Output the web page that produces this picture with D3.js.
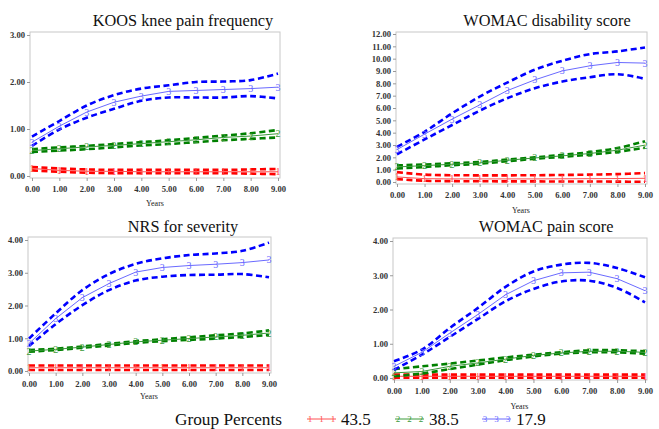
<!DOCTYPE html>
<html><head><meta charset="utf-8">
<script src="https://cdn.jsdelivr.net/npm/d3@7"></script>
<style>body{margin:0;background:#fff}svg{display:block}</style>
</head><body>
<svg id="c" width="659" height="429"></svg>
<script>
const years = [0,1,2,3,4,5,6,7,8,9];
const groupLabels = ["1","2","3"];
const groupPercents = ["43.5","38.5","17.9"];
const titles = ["KOOS knee pain frequency","WOMAC disability score","NRS for severity","WOMAC pain score"];
const yTicks1 = [0,1,2,3];
const yTicks2 = [0,1,2,3,4,5,6,7,8,9,10,11,12];
const yTicks3 = [0,1,2,3,4];
const yTicks4 = [0,1,2,3,4];
const xTicks = [0,1,2,3,4,5,6,7,8,9];

// KOOS knee pain frequency
const koos1Mean=[0.16,0.12,0.10,0.10,0.09,0.09,0.09,0.09,0.09,0.09];
const koos1Hi  =[0.19,0.16,0.14,0.13,0.13,0.13,0.13,0.13,0.14,0.15];
const koos1Lo  =[0.12,0.09,0.07,0.06,0.06,0.06,0.06,0.06,0.05,0.04];
const koos2Mean=[0.54,0.58,0.62,0.65,0.69,0.73,0.77,0.82,0.85,0.90];
const koos2Hi  =[0.57,0.61,0.64,0.68,0.72,0.76,0.81,0.86,0.91,0.98];
const koos2Lo  =[0.51,0.54,0.57,0.61,0.65,0.68,0.72,0.76,0.79,0.82];
const koos3Mean=[0.72,1.06,1.36,1.57,1.70,1.80,1.82,1.84,1.86,1.89];
const koos3Hi  =[0.84,1.17,1.50,1.72,1.86,1.93,2.00,2.01,2.04,2.18];
const koos3Lo  =[0.64,0.99,1.24,1.43,1.60,1.67,1.67,1.67,1.70,1.65];
// WOMAC disability
const wd1Mean=[0.41,0.27,0.25,0.25,0.25,0.25,0.26,0.27,0.28,0.30];
const wd1Hi  =[0.80,0.60,0.55,0.54,0.54,0.55,0.57,0.60,0.64,0.72];
const wd1Lo  =[0.23,0.10,0.07,0.06,0.05,0.05,0.04,0.04,0.03,0.02];
const wd2Mean=[1.22,1.33,1.44,1.55,1.76,1.95,2.12,2.31,2.58,2.99];
const wd2Hi  =[1.35,1.42,1.52,1.62,1.82,2.00,2.20,2.42,2.75,3.30];
const wd2Lo  =[1.10,1.22,1.36,1.48,1.68,1.88,2.04,2.22,2.45,2.78];
const wd3Mean=[2.63,3.88,5.10,6.25,7.41,8.28,9.01,9.42,9.69,9.64];
const wd3Hi  =[2.85,4.07,5.57,6.92,8.06,9.10,9.83,10.37,10.59,10.91];
const wd3Lo  =[2.25,3.45,4.62,5.78,6.79,7.60,8.15,8.50,8.74,8.36];
// NRS for severity
const nrs1Mean=[0.10,0.10,0.10,0.10,0.10,0.10,0.10,0.10,0.10,0.10];
const nrs1Hi  =[0.17,0.17,0.17,0.17,0.17,0.17,0.17,0.17,0.17,0.17];
const nrs1Lo  =[0.03,0.03,0.03,0.03,0.03,0.03,0.03,0.03,0.03,0.03];
const nrs2Mean=[0.61,0.66,0.73,0.81,0.89,0.94,0.99,1.04,1.09,1.16];
const nrs2Hi  =[0.64,0.68,0.75,0.83,0.91,0.97,1.03,1.09,1.15,1.24];
const nrs2Lo  =[0.59,0.64,0.71,0.78,0.86,0.91,0.95,0.99,1.04,1.10];
const nrs3Mean=[0.84,1.60,2.24,2.67,3.02,3.16,3.22,3.26,3.31,3.39];
const nrs3Hi  =[0.99,1.76,2.47,2.96,3.27,3.44,3.54,3.59,3.67,3.92];
const nrs3Lo  =[0.76,1.43,2.01,2.47,2.76,2.88,2.93,2.94,2.96,2.86];
// WOMAC pain
const wp1Mean=[0.05,0.05,0.05,0.05,0.05,0.05,0.05,0.05,0.05,0.05];
const wp1Hi  =[0.10,0.10,0.10,0.10,0.10,0.10,0.10,0.10,0.10,0.10];
const wp1Lo  =[0.01,0.01,0.01,0.01,0.01,0.01,0.01,0.01,0.01,0.01];
const wp2Mean=[0.15,0.19,0.34,0.44,0.55,0.66,0.73,0.78,0.78,0.75];
const wp2Hi  =[0.26,0.34,0.42,0.51,0.60,0.68,0.75,0.81,0.81,0.78];
const wp2Lo  =[0.05,0.13,0.26,0.39,0.52,0.63,0.71,0.75,0.75,0.71];
const wp3Mean=[0.34,0.75,1.31,1.85,2.43,2.84,3.07,3.09,2.90,2.55];
const wp3Hi  =[0.49,0.83,1.46,2.04,2.66,3.11,3.31,3.36,3.21,2.94];
const wp3Lo  =[0.24,0.68,1.20,1.72,2.24,2.60,2.82,2.84,2.63,2.21];

const darkCol = ["#ff0000","#008000","#0000ff"];
const lightCol = ["#ff5050","#3a9a3a","#6a6aff"];

const panels = [
  {title:titles[0], yTicks:yTicks1, x:[32,278], y:[176,35], frame:[30,280,32,178], tx:183, ty:26, yl:206,
   g:[[koos1Mean,koos1Hi,koos1Lo],[koos2Mean,koos2Hi,koos2Lo],[koos3Mean,koos3Hi,koos3Lo]]},
  {title:titles[1], yTicks:yTicks2, x:[397,645], y:[182,34], frame:[396,647,32,184], tx:547, ty:26, yl:213,
   g:[[wd1Mean,wd1Hi,wd1Lo],[wd2Mean,wd2Hi,wd2Lo],[wd3Mean,wd3Hi,wd3Lo]]},
  {title:titles[2], yTicks:yTicks3, x:[29,269], y:[371,240], frame:[28,271,237,373], tx:183, ty:232, yl:399,
   g:[[nrs1Mean,nrs1Hi,nrs1Lo],[nrs2Mean,nrs2Hi,nrs2Lo],[nrs3Mean,nrs3Hi,nrs3Lo]]},
  {title:titles[3], yTicks:yTicks4, x:[394,645], y:[378,241], frame:[393,647,238,380], tx:546, ty:232, yl:409,
   g:[[wp1Mean,wp1Hi,wp1Lo],[wp2Mean,wp2Hi,wp2Lo],[wp3Mean,wp3Hi,wp3Lo]]}
];

const SF = '"Liberation Serif"';
const svg = d3.select("#c");

panels.forEach(p => {
  const x = d3.scaleLinear().domain([0,9]).range(p.x);
  const y = d3.scaleLinear().domain([0,d3.max(p.yTicks)]).range(p.y);
  const [fl,fr,ft,fb] = p.frame;
  const g = svg.append("g");
  g.append("rect").attr("x",fl).attr("y",ft).attr("width",fr-fl).attr("height",fb-ft)
    .attr("fill","#fff").attr("stroke","#c8c8c8").attr("stroke-width",1);
  const ya = g.append("g").attr("transform",`translate(${fl},0)`)
    .call(d3.axisLeft(y).tickValues(p.yTicks).tickFormat(d3.format(".2f")).tickSize(3).tickPadding(2));
  const xa = g.append("g").attr("transform",`translate(0,${fb})`)
    .call(d3.axisBottom(x).tickValues(xTicks).tickFormat(d3.format(".2f")).tickSize(3).tickPadding(5));
  [ya,xa].forEach(a=>{
    a.select(".domain").remove();
    a.selectAll("line").attr("stroke","#999");
    a.selectAll("text").style("font-family",SF).style("font-weight","bold").style("font-size","8.6px").attr("fill","#333");
  });
  g.append("text").attr("x",p.tx).attr("y",p.ty).attr("text-anchor","middle")
    .style("font-family",SF).style("font-size","16.3px").attr("fill","#111").text(p.title);
  g.append("text").attr("x",(p.x[0]+p.x[1])/2).attr("y",p.yl).attr("text-anchor","middle")
    .style("font-family",SF).style("font-size","8px").attr("fill","#222").text("Years");
  const smooth = d3.line().x((d,i)=>x(years[i])).y(d=>y(d)).curve(d3.curveCatmullRom);
  const straight = d3.line().x((d,i)=>x(years[i])).y(d=>y(d));
  p.g.forEach((grp,gi)=>{
    const [mean,hi,lo] = grp;
    [hi,lo].forEach(arr=>{
      g.append("path").attr("d",smooth(arr)).attr("fill","none").attr("stroke",darkCol[gi])
        .attr("stroke-width",2.6).attr("stroke-dasharray","6,3.5");
    });
    g.append("path").attr("d",straight(mean)).attr("fill","none").attr("stroke",lightCol[gi]).attr("stroke-width",1);
    g.selectAll(null).data(mean).enter().append("text")
      .attr("x",(d,i)=>x(years[i])).attr("y",d=>y(d)+3.5).attr("text-anchor","middle")
      .style("font-family",SF).style("font-size","10px").attr("fill",lightCol[gi]).text(groupLabels[gi]);
  });
});

// legend
const lg = svg.append("g");
lg.append("text").attr("x",175).attr("y",425).style("font-family",SF).style("font-size","17px")
  .attr("textLength",107).attr("lengthAdjust","spacingAndGlyphs")
  .attr("fill","#111").text("Group Percents");
const legX = [307,395,482];
groupPercents.forEach((t,i)=>{
  const x0 = legX[i];
  lg.append("line").attr("x1",x0).attr("x2",x0+29).attr("y1",419).attr("y2",419)
    .attr("stroke",lightCol[i]).attr("stroke-width",1);
  [0,1,2].forEach(k=>{
    lg.append("text").attr("x",x0+3+k*11.5).attr("y",422).attr("text-anchor","middle")
      .style("font-family",SF).style("font-size","9px").attr("fill",lightCol[i]).text(groupLabels[i]);
  });
  lg.append("text").attr("x",x0+34).attr("y",425).style("font-family",SF).style("font-size","17px")
    .attr("fill","#111").text(t);
});
</script>
</body></html>
